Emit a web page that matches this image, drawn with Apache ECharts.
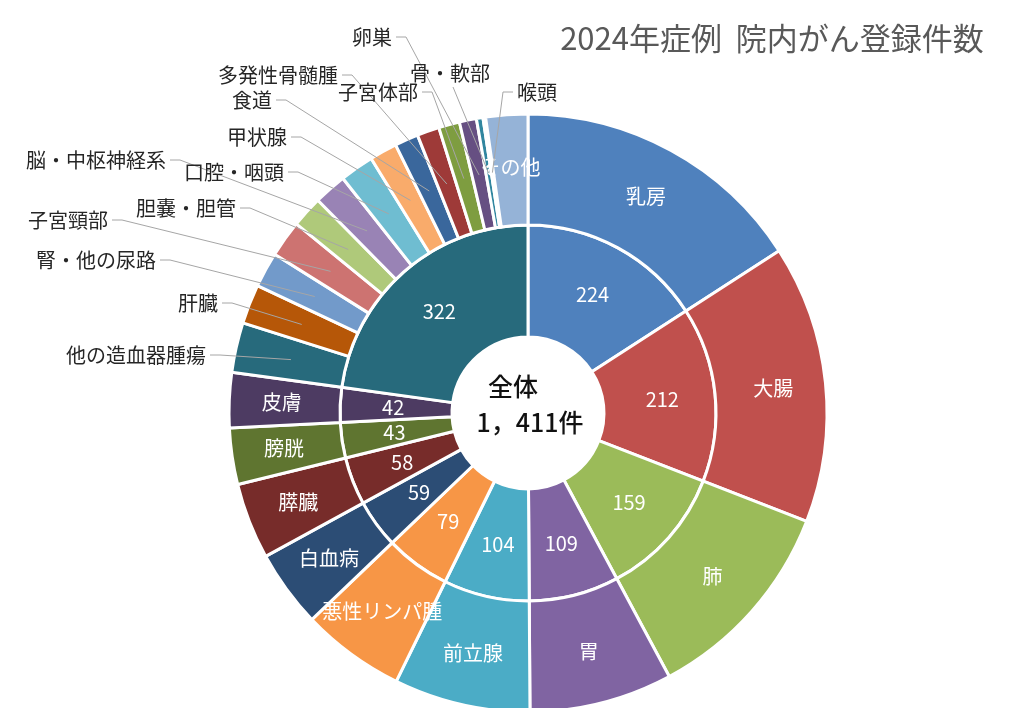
<!DOCTYPE html>
<html>
<head>
<meta charset="utf-8">
<script src="https://cdn.jsdelivr.net/npm/echarts@6/dist/echarts.min.js"></script>
<style>
html,body{margin:0;padding:0;background:#fff;}
#chart{width:1017px;height:708px;}
</style>
</head>
<body>
<div id="chart"></div>
<script>
// ---- data ----
const titleText = '2024年症例  院内がん登録件数';
const centerCaption = '全体';
const innerNames = ['乳房','大腸','肺','胃','前立腺','悪性リンパ腫','白血病','膵臓','膀胱','皮膚','その他の部位'];
const innerValues = [224,212,159,109,104,79,59,58,43,42,322];
const detailNames = ['他の造血器腫瘍','肝臓','腎・他の尿路','子宮頸部','胆嚢・胆管','脳・中枢神経系','口腔・咽頭','甲状腺','食道','多発性骨髄腫','子宮体部','卵巣','骨・軟部','喉頭','その他'];
const detailValues = [38,30,27,28,24,25,26,21,18,17,16,13,5,2,32];

// ---- styles ----
const palette = ['#4F81BD','#C0504D','#9BBB59','#8064A2','#4BACC6','#F79646',
  '#2C4D75','#772C2A','#5F7530','#4D3B62','#276A7C','#B65708',
  '#729ACA','#CD7371','#AFC97A','#9983B5','#6FBDD1','#F9AB6B',
  '#3A679C','#9E3A38','#7E9D40','#664F82','#31869F','#E46C0A','#95B3D7'];
const FONT = '"Noto Sans CJK JP", "Noto Sans", sans-serif';
// callout label anchor spots: [x, y, align]
const calloutSpots = {
  '他の造血器腫瘍': [206, 355, 'right'],
  '肝臓': [218, 303, 'right'],
  '腎・他の尿路': [156, 260, 'right'],
  '子宮頸部': [108, 220, 'right'],
  '胆嚢・胆管': [236, 208, 'right'],
  '脳・中枢神経系': [166, 160, 'right'],
  '口腔・咽頭': [284, 172, 'right'],
  '甲状腺': [287, 137, 'right'],
  '食道': [272, 100, 'right'],
  '多発性骨髄腫': [338, 75, 'right'],
  '子宮体部': [418, 92, 'right'],
  '卵巣': [392, 37, 'right'],
  '骨・軟部': [450, 73, 'center'],
  '喉頭': [517, 92, 'left']
};

const mainCount = innerValues.length - 1;
const outerNames = innerNames.slice(0, mainCount).concat(detailNames);
const outerValues = innerValues.slice(0, mainCount).concat(detailValues);
const total = innerValues.reduce((a, b) => a + b, 0);
const totalText = total.toLocaleString('en-US').replace(/,/g, '，') + '件';

const CENTER = [528, 413];

const innerData = innerNames.map((n, i) => ({ name: n, value: innerValues[i], itemStyle: { color: palette[i] } }));
const outerData = outerNames.map((n, i) => ({
  name: n, value: outerValues[i],
  itemStyle: { color: palette[i] },
  label: { show: i < mainCount || n === 'その他' }
}));
const calloutData = outerNames.map((n, i) => ({
  name: n, value: outerValues[i],
  label: { show: !!calloutSpots[n] },
  labelLine: { show: !!calloutSpots[n] }
}));

const chart = echarts.init(document.getElementById('chart'), null, { renderer: 'canvas' });
chart.setOption({
  animation: false,
  backgroundColor: '#fff',
  graphic: [
    { type: 'text', x: 772, y: 38, style: { text: titleText, font: '400 31px ' + FONT, fill: '#595959', align: 'center', verticalAlign: 'middle' } },
    { type: 'text', x: 513, y: 386, z: 10, style: { text: centerCaption, font: '500 25px ' + FONT, fill: '#111', align: 'center', verticalAlign: 'middle' } },
    { type: 'text', x: 530, y: 422, z: 10, style: { text: totalText, font: '500 25px ' + FONT, fill: '#111', align: 'center', verticalAlign: 'middle' } }
  ],
  series: [
    {
      type: 'pie', name: 'inner', center: CENTER, radius: [76, 188],
      silent: true, startAngle: 90, clockwise: true,
      itemStyle: { borderColor: '#fff', borderWidth: 3 },
      label: { show: true, position: 'inside', formatter: '{c}', color: '#fff', fontSize: 20, fontFamily: FONT },
      labelLine: { show: false },
      data: innerData
    },
    {
      type: 'pie', name: 'outer', center: CENTER, radius: [188, 299],
      silent: true, startAngle: 90, clockwise: true,
      itemStyle: { borderColor: '#fff', borderWidth: 3 },
      label: { position: 'inside', formatter: '{b}', color: '#fff', fontSize: 20, fontFamily: FONT },
      labelLine: { show: false },
      data: outerData
    },
    {
      type: 'pie', name: 'callouts', center: CENTER, radius: [240, 243], z: 6,
      silent: true, startAngle: 90, clockwise: true, avoidLabelOverlap: false,
      itemStyle: { color: 'rgba(0,0,0,0)', borderWidth: 0 },
      label: { position: 'outside', formatter: '{b}', color: '#262626', fontSize: 20, fontFamily: FONT },
      labelLine: { length: 10, length2: 10, lineStyle: { color: '#A6A6A6', width: 1 } },
      labelLayout: function (p) {
        const n = outerNames[p.dataIndex];
        const s = calloutSpots[n];
        if (!s) return {};
        const x = s[0], y = s[1], align = s[2];
        const res = { x: x, y: y, align: align, verticalAlign: 'middle' };
        if (p.labelLinePoints && p.labelLinePoints.length) {
          const anchor = p.labelLinePoints[0];
          if (align === 'center') {
            res.labelLinePoints = [anchor, [x + 3, y + 14]];
          } else {
            const d = align === 'right' ? 1 : -1;
            res.labelLinePoints = [anchor, [x + d * 14, y], [x + d * 4, y]];
          }
        }
        return res;
      },
      data: calloutData
    }
  ]
});
</script>
</body>
</html>
